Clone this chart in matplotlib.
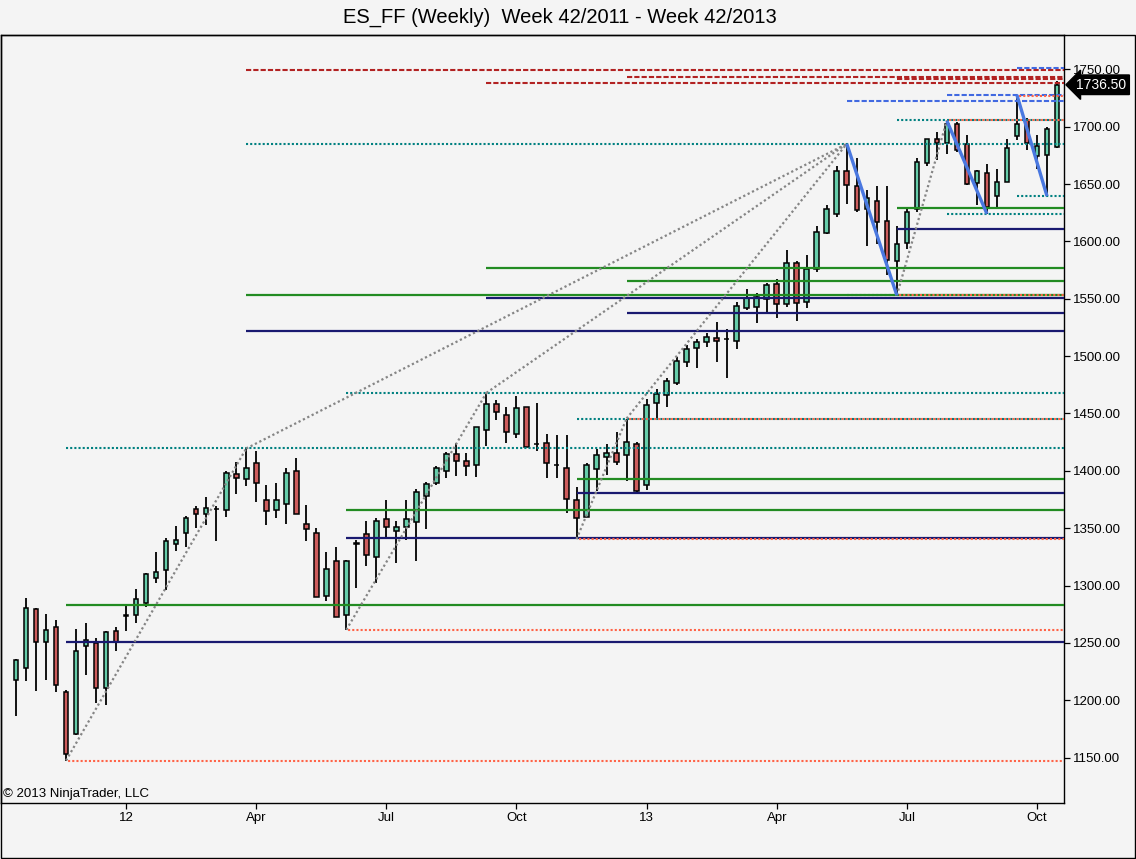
import matplotlib
matplotlib.use('Agg')
import matplotlib.pyplot as plt
from matplotlib.patches import Rectangle
import matplotlib.transforms as mtransforms

plt.rcParams['font.family'] = ['Liberation Sans', 'DejaVu Sans']

# ---------------- data (weekly OHLC, week 42/2011 .. week 42/2013) ----------------
opens = [1218, 1228.5, 1279.5, 1250.5, 1264, 1207, 1171, 1247.5, 1250, 1211,
         1260.5, 1273.75, 1274, 1284.5, 1307, 1313.5, 1336, 1346, 1366.5, 1362.5,
         1366.5, 1366, 1397.5, 1393, 1406.5, 1374.5, 1365.5, 1371.5, 1399.5, 1353.5,
         1345.5, 1290.5, 1321, 1274, 1337, 1345, 1324.5, 1358, 1348, 1351,
         1355, 1378.5, 1389, 1399.5, 1414.5, 1409, 1405.5, 1436, 1458, 1449,
         1432, 1456, 1423.5, 1424, 1405.5, 1402.5, 1374.5, 1360, 1402, 1412.5,
         1415.5, 1414, 1423, 1387.5, 1459.5, 1466, 1477, 1495, 1507.5, 1512.5,
         1515.5, 1515, 1513.5, 1542, 1543, 1549.5, 1562.5, 1545, 1581.5, 1547.5,
         1575.5, 1607.5, 1624, 1661.5, 1648.5, 1628.5, 1635.5, 1618, 1582.5, 1599,
         1628.5, 1668.5, 1689, 1685.5, 1702, 1684.5, 1650.5, 1659.5, 1639.5, 1651.5,
         1692, 1706, 1674, 1675.5, 1682]
highs = [1236, 1289.5, 1280.5, 1275.5, 1270, 1209, 1262, 1267.5, 1254, 1260.5,
         1264, 1282.5, 1297, 1311, 1329.5, 1341.5, 1352, 1360.5, 1369.5, 1377.5,
         1369.5, 1400, 1407.5, 1419.5, 1417.5, 1387.5, 1389.5, 1402.5, 1411, 1370.5,
         1350, 1329.5, 1333.5, 1322, 1339.5, 1356.5, 1359, 1374.5, 1356, 1375,
         1384, 1390, 1404, 1416, 1424, 1415.5, 1438, 1467.5, 1461.5, 1456,
         1465, 1456, 1459, 1432.5, 1431, 1431, 1385.5, 1406.5, 1419, 1423,
         1434, 1445.5, 1425, 1462.5, 1471, 1480.5, 1499, 1509.5, 1515, 1520,
         1529.5, 1524, 1547, 1558.5, 1555, 1563.5, 1567, 1592.5, 1583, 1588,
         1613.5, 1631.5, 1665.5, 1685, 1672.5, 1645, 1648, 1648, 1613.5, 1628.5,
         1672.5, 1689.5, 1695, 1705, 1704, 1693, 1662.5, 1667, 1663.5, 1689.5,
         1727.5, 1707.5, 1692.5, 1699.5, 1739.5]
lows = [1186, 1216.5, 1208.5, 1218, 1207, 1147.5, 1169.5, 1222.5, 1198, 1195.5,
        1243, 1260, 1267, 1281, 1302, 1296, 1330, 1333.5, 1350.5, 1353,
        1338.5, 1360, 1380, 1386.5, 1372.5, 1352.5, 1359, 1354, 1362, 1339,
        1290, 1287, 1273, 1261.5, 1298, 1317.5, 1302.5, 1342, 1320, 1339.5,
        1321, 1349, 1387.5, 1394, 1395.5, 1395.5, 1394.5, 1421.5, 1444, 1424,
        1428.5, 1420.5, 1417, 1394, 1393.5, 1363.5, 1340.5, 1360, 1382.5, 1396.5,
        1405, 1391, 1381.5, 1383.5, 1446, 1455.5, 1475, 1490.5, 1490, 1508,
        1495, 1481, 1506.5, 1540, 1529, 1538.5, 1533.5, 1543, 1530.5, 1542,
        1573.5, 1606.5, 1621.5, 1632.5, 1625.5, 1596, 1597.5, 1570.5, 1553, 1593,
        1625.5, 1666, 1670.5, 1676.5, 1678, 1649.5, 1631.5, 1624, 1630, 1651.5,
        1688, 1680, 1663.5, 1639.5, 1681]
closes = [1235, 1280.5, 1250.5, 1261, 1213.5, 1153, 1243, 1252.5, 1210.5, 1259.5,
          1251, 1274, 1288, 1310, 1312, 1339, 1340, 1359, 1362.5, 1368,
          1366.75, 1398, 1393.5, 1402.5, 1389, 1365, 1374.5, 1398, 1362, 1349,
          1290, 1314.5, 1273, 1321.5, 1336.5, 1326.5, 1356, 1351, 1351, 1358,
          1382, 1388.5, 1402.5, 1414.5, 1409, 1404, 1438, 1458, 1451, 1433.5,
          1454.5, 1420.5, 1423, 1406.5, 1405.25, 1375.5, 1358.5, 1405, 1414, 1415.5,
          1408, 1425, 1382.5, 1457, 1467, 1478.5, 1495.5, 1506, 1512, 1516.5,
          1513.5, 1515.25, 1543.5, 1551, 1551.5, 1562, 1545, 1581, 1546.5, 1575.5,
          1608, 1628.5, 1661.5, 1649, 1627, 1637.5, 1617, 1583.5, 1598, 1626,
          1669, 1689, 1685.5, 1702.5, 1680, 1650, 1661, 1630, 1652, 1681,
          1702, 1685.5, 1683.5, 1698, 1736.5]

tick_weeks = [11, 24, 37, 50, 63, 76, 89, 102]
tick_labels = ['12', 'Apr', 'Jul', 'Oct', '13', 'Apr', 'Jul', 'Oct']
price_ticks = [1150, 1200, 1250, 1300, 1350, 1400, 1450, 1500, 1550, 1600, 1650, 1700, 1750]

# horizontal levels: (price, starting week)
red_dashed = [(1749, 23), (1743, 61), (1741.7, 88), (1737.8, 47)]
blue_dashed = [(1751.4, 100), (1727.6, 93), (1722.6, 83)]
teal_dotted = [(1705.5, 88), (1685, 23), (1639.5, 100), (1624, 93), (1553, 83),
               (1468, 33), (1445.6, 56), (1419.5, 5)]
red_dotted = [(1727, 100), (1705.5, 93), (1553, 88), (1445.6, 61), (1340.5, 56),
              (1261.5, 33), (1147.5, 5)]
green_levels = [(1629, 88), (1577, 47), (1565.5, 61), (1553, 23), (1393.3, 56),
                (1365.6, 33), (1283.3, 5)]
navy_levels = [(1611, 88), (1551, 47), (1537.4, 61), (1521.7, 23), (1380.3, 56),
               (1341.2, 33), (1251, 5)]
# trend lines: (week1, price1, week2, price2)
grey_trends = [(5, 1147.5, 23, 1419.5), (33, 1261.5, 47, 1468), (56, 1340.5, 61, 1445.6),
               (23, 1419.5, 83, 1685), (47, 1468, 83, 1685), (61, 1445.6, 83, 1685),
               (88, 1553, 93, 1705.5)]
blue_trends = [(83, 1685, 88, 1553), (93, 1705, 97, 1624), (100, 1727.5, 103, 1639.5)]

# ---------------- figure ----------------
W, H = 1136, 859
BG = '#F4F4F4'
fig = plt.figure(figsize=(W / 100, H / 100), dpi=100, facecolor=BG)
ax = fig.add_axes([1 / W, (H - 803.3) / H, (1063.7 - 1) / W, (803.3 - 34.5) / H])
ax.set_facecolor(BG)
XMIN, XMAX = -1.5, 104.67
ax.set_xlim(XMIN, XMAX)
ax.set_ylim(1110.26, 1780.3)

GREEN = '#66CDAA'
RED = '#CD5C5C'
for i, (o, h, l, c) in enumerate(zip(opens, highs, lows, closes)):
    ax.plot([i, i], [l, h], color='black', lw=1.3, zorder=2, solid_capstyle='butt')
    bottom = min(o, c)
    height = abs(c - o)
    ax.add_patch(Rectangle((i - 0.23, bottom), 0.46, height,
                           facecolor=GREEN if c >= o else RED,
                           edgecolor='black', lw=1.1, zorder=3))

for p, s in teal_dotted:
    ax.hlines(p, s, XMAX, colors='#008080', lw=1.5, linestyles=(0, (1, 1)), zorder=4)
for p, s in red_dotted:
    ax.hlines(p, s, XMAX, colors='#FF6347', lw=1.5, linestyles=(1, (1, 1)), zorder=5)
for p, s in green_levels:
    ax.hlines(p, s, XMAX, colors='#228B22', lw=1.6, zorder=4)
for p, s in navy_levels:
    ax.hlines(p, s, XMAX, colors='#191970', lw=1.6, zorder=4)
for p, s in red_dashed:
    ax.hlines(p, s, XMAX, colors='#B22222', lw=1.5, linestyles=(0, (2.5, 1)), zorder=4)
for p, s in blue_dashed:
    ax.hlines(p, s, XMAX, colors='#4169E1', lw=1.5, linestyles=(0, (2.5, 1)), zorder=4)
for x1, y1, x2, y2 in grey_trends:
    ax.plot([x1, x2], [y1, y2], color='#858585', lw=1.6, linestyle=(0, (1, 1.2)), zorder=6)
for x1, y1, x2, y2 in blue_trends:
    ax.plot([x1, x2], [y1, y2], color='#4A78E0', lw=2.4, zorder=7, solid_capstyle='butt')

# axes styling
for sp in ax.spines.values():
    sp.set_color('black')
    sp.set_linewidth(1.0)
ax.yaxis.tick_right()
ax.set_yticks(price_ticks)
ax.set_yticklabels([f'{v:.2f}' for v in price_ticks])
ax.set_xticks(tick_weeks)
ax.set_xticklabels(tick_labels)
ax.tick_params(axis='both', direction='out', length=4.5, width=0.9, pad=2,
               labelsize=9.5, colors='black')
ax.tick_params(axis='y', left=False, right=True, pad=2)

# last price marker
trans = mtransforms.blended_transform_factory(ax.transAxes, ax.transData)
ax.text(1.012, closes[-1], f'{closes[-1]:.2f}', transform=trans, ha='left', va='center',
        color='white', fontsize=10, clip_on=False, zorder=10,
        bbox=dict(boxstyle='larrow,pad=0.2', fc='black', ec='black'))

ax.text(0.002, 0.004, '\u00a9 2013 NinjaTrader, LLC', transform=ax.transAxes,
        ha='left', va='bottom', fontsize=9.5, color='black', zorder=10)

fig.text(559.5 / W, 1 - 17 / H, 'ES_FF (Weekly)  Week 42/2011 - Week 42/2013',
         ha='center', va='center', fontsize=14.5, color='black')

fig.patches.append(Rectangle((0.5 / W, 1 / H), 1134.5 / W, 823.5 / H,
                             transform=fig.transFigure, fill=False, lw=1.0,
                             ec='black', zorder=0))

fig.savefig('out.png', dpi=100, facecolor=BG)
